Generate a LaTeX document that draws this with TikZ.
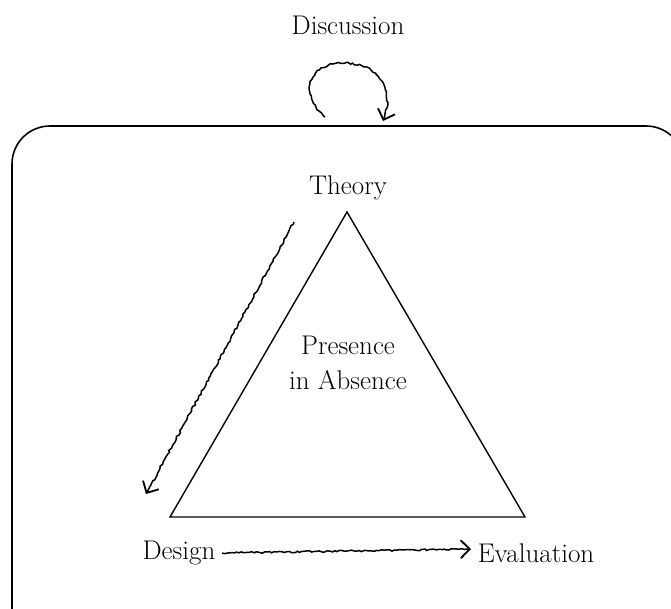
\documentclass[tikz,border=0pt]{standalone}
\usetikzlibrary{arrows.meta,decorations.pathmorphing}
\begin{document}
\begin{tikzpicture}[x=1pt,y=-1pt,
  lbl/.style={font=\fontsize{27}{35}\selectfont, inner sep=0pt, align=center},
  rough/.style={line width=1.5pt, decorate,
    decoration={random steps, segment length=2.5pt, amplitude=0.9pt, post length=5pt},
    -{Straight Barb[length=9pt,width=18pt,line width=1.8pt]}},
  frame/.style={line width=1.6pt, rounded corners=38pt},
  tri/.style={line width=1.4pt}]
\pgfmathsetseed{7}
\useasboundingbox (0,0) rectangle (671,609);
\begin{scope}
\clip (0,0) rectangle (671,609);
\draw[frame] (12,700) -- (12,126) -- (684,126) -- (684,700);
\end{scope}
% labels
\node[lbl] (disc) at (348,25) {Discussion};
\node[lbl] (theory) at (348,188) {Theory};
\node[lbl] (design) at (179,553) {Design};
\node[lbl] (eval) at (536,553) {Evaluation};
\node[lbl] (pia) at (348,363) {Presence\\in Absence};
% triangle
\coordinate (apex) at (347,212);
\coordinate (bl) at (170,517);
\coordinate (br) at (525,517);
\draw[tri] (apex) -- (bl) -- (br) -- cycle;
% arrows
\coordinate (c1s) at (325,117);
\coordinate (c1e) at (383,121);
\draw[rough] (c1s) .. controls (296,90) and (312,62) .. (345,63)
  .. controls (378,64) and (396,88) .. (c1e);
\coordinate (a1s) at (294,222);
\coordinate (a1e) at (146,494);
\draw[rough] (a1s) -- (a1e);
\coordinate (a2s) at (222,553);
\coordinate (a2e) at (471,549);
\draw[rough] (a2s) -- (a2e);
\end{tikzpicture}
\end{document}
